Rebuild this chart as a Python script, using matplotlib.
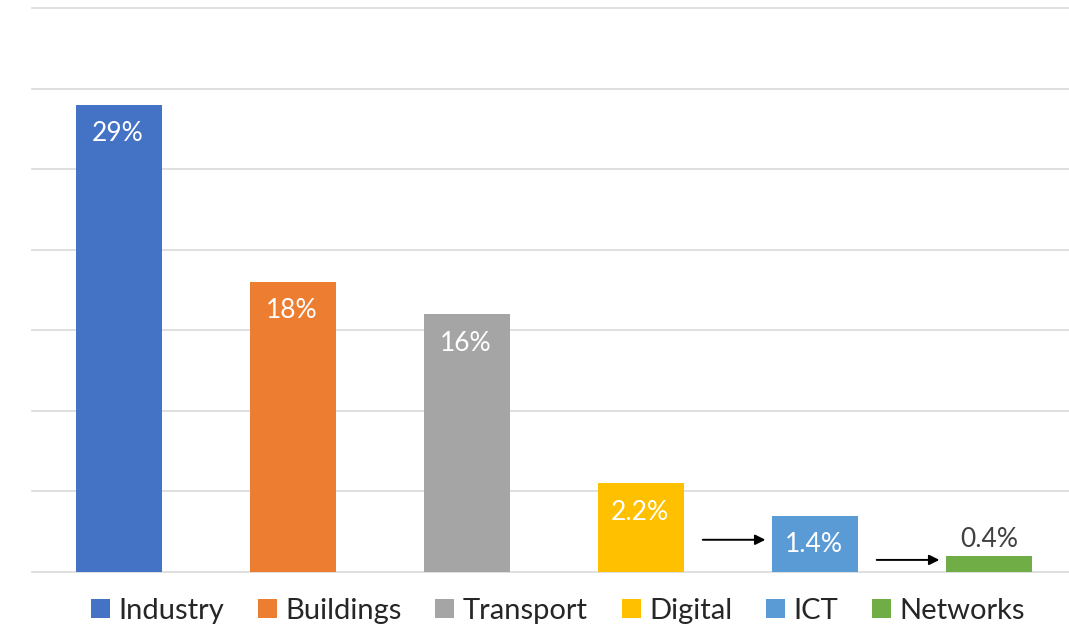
import matplotlib
matplotlib.use("Agg")
import matplotlib.pyplot as plt
from matplotlib.patches import Patch

plt.rcParams['font.family'] = ['Lato', 'DejaVu Sans']

categories = ["Industry", "Buildings", "Transport", "Digital", "ICT", "Networks"]
bar_heights = [29, 18, 16, 5.5, 3.5, 1.0]
value_labels = ["29%", "18%", "16%", "2.2%", "1.4%", "0.4%"]
colors = ["#4472C4", "#ED7D31", "#A5A5A5", "#FFC000", "#5B9BD5", "#70AD47"]
yticks = [0, 5, 10, 15, 20, 25, 30, 35]

W, H = 1069, 633
fig = plt.figure(figsize=(W / 100, H / 100), dpi=100)
ax = fig.add_axes([32 / W, 61 / H, 1044 / W, 564 / H])

x = list(range(len(categories)))
bar_w = 0.49
bars = ax.bar(x, bar_heights, width=bar_w, color=colors, zorder=3)

ax.set_xlim(-0.5, len(categories) - 0.5)
ax.set_ylim(0, 35)
for yv in yticks:
    ax.axhline(yv, color="#D9D9D9", lw=1.2, zorder=1, clip_on=False)
ax.set_xticks([])
ax.set_yticks([])
for s in ax.spines.values():
    s.set_visible(False)

# data labels
for i, (b, lab) in enumerate(zip(bars, value_labels)):
    top = b.get_height()
    if i == len(bars) - 1:
        ax.annotate(lab, (b.get_x() + b.get_width() / 2, top), xytext=(0, 16),
                    textcoords="offset pixels", ha="center", va="center",
                    fontsize=19, color="#404040", zorder=4)
    else:
        ax.annotate(lab, (b.get_x() + b.get_width() / 2, top), xytext=(-1, -29),
                    textcoords="offset pixels", ha="center", va="center",
                    fontsize=19, color="white", zorder=4)

# arrows between the last three bars
arrow_y = [2.0, 0.75]
for k, i in enumerate([3, 4]):
    x0 = x[i] + bar_w / 2 + 0.11
    x1 = x[i + 1] - bar_w / 2 - 0.04
    ax.annotate("", xy=(x1, arrow_y[k]), xytext=(x0, arrow_y[k]),
                arrowprops=dict(arrowstyle="-|>", color="black", lw=1.4,
                                mutation_scale=15, shrinkA=0, shrinkB=0),
                zorder=5)

handles = [Patch(facecolor=c, edgecolor="none") for c in colors]
fig.legend(handles, categories, loc="center", bbox_to_anchor=(558 / W, 1 - 611 / H),
           ncol=6, frameon=False, fontsize=21, handlelength=0.65, handleheight=0.65,
           handletextpad=0.3, columnspacing=1.15, labelcolor="#262626")

fig.savefig("out.png", dpi=100)
